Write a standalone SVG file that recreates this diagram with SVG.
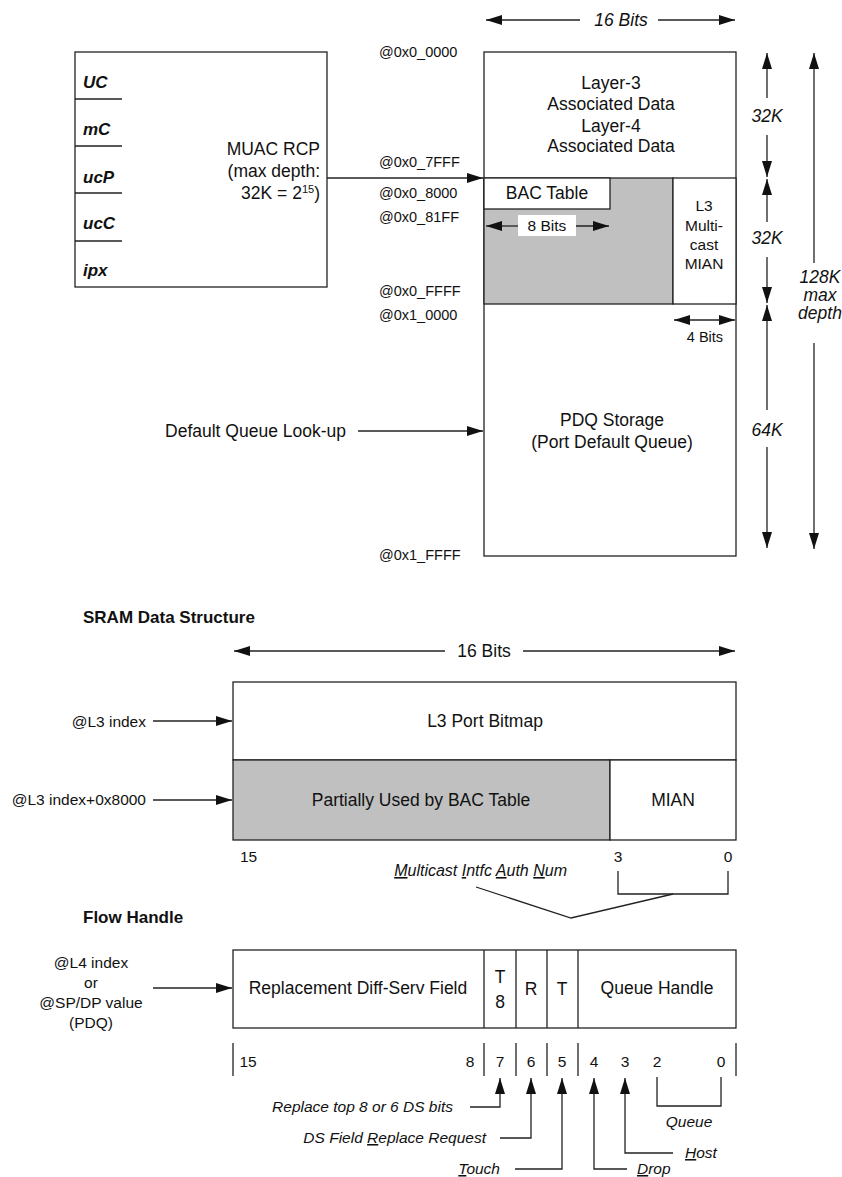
<svg xmlns="http://www.w3.org/2000/svg" width="842" height="1177" viewBox="0 0 842 1177">
<style>
text{font-family:"Liberation Sans",Arial,sans-serif;fill:#111;}
.m{font-size:17.5px;}
.a{font-size:14.5px;}
.s{font-size:15.5px;}
.i{font-style:italic;}
.b{font-weight:bold;font-size:17px;}
.bi{font-weight:bold;font-style:italic;font-size:17px;}
.c{text-anchor:middle;}
.e{text-anchor:end;}
.u{text-decoration:underline;}
.box{fill:#fff;stroke:#222;stroke-width:1.3;}
.gray{fill:#c0c0c0;stroke:#222;stroke-width:1.3;}
.ln{fill:none;stroke:#222;stroke-width:1.3;}
.ar{fill:none;stroke:#222;stroke-width:1.3;marker-end:url(#ah);}
.ar2{fill:none;stroke:#222;stroke-width:1.3;marker-end:url(#ah);marker-start:url(#ah);}
</style>
<defs>
<marker id="ah" markerUnits="userSpaceOnUse" markerWidth="16" markerHeight="10" refX="16" refY="5" orient="auto-start-reverse">
<path d="M0,0 L16,5 L0,10 z" fill="#111"/>
</marker>
</defs>
<rect width="842" height="1177" fill="#fff"/>

<!-- Left MUAC box -->
<g id="muac">
<rect class="box" x="75" y="52" width="252" height="235"/>
<path class="ln" d="M75,99 H122 M75,146 H122 M75,193 H122 M75,241 H122"/>
<text class="bi" x="83" y="88">UC</text>
<text class="bi" x="83" y="135">mC</text>
<text class="bi" x="83" y="183">ucP</text>
<text class="bi" x="83" y="229">ucC</text>
<text class="bi" x="83" y="276">ipx</text>
<text class="m e" x="320" y="155">MUAC RCP</text>
<text class="m e" x="320" y="177">(max depth:</text>
<text class="m e" x="320" y="199">32K = 2<tspan font-size="11" dy="-6">15</tspan><tspan dy="6">)</tspan></text>
</g>

<!-- Address labels -->
<g id="addresses">
<text class="a" x="379" y="57">@0x0_0000</text>
<text class="a" x="379" y="167">@0x0_7FFF</text>
<text class="a" x="379" y="198">@0x0_8000</text>
<text class="a" x="379" y="222">@0x0_81FF</text>
<text class="a" x="379" y="296">@0x0_FFFF</text>
<text class="a" x="379" y="320">@0x1_0000</text>
<text class="a" x="379" y="560">@0x1_FFFF</text>
</g>

<!-- Memory map -->
<g id="memmap">
<rect class="box" x="484" y="52" width="252" height="504"/>
<rect class="gray" x="484" y="178" width="189" height="126"/>
<rect class="box" x="673" y="178" width="63" height="126"/>
<rect class="box" x="484" y="178" width="126" height="31"/>
<text class="m c" x="611" y="89">Layer-3</text>
<text class="m c" x="611" y="110">Associated Data</text>
<text class="m c" x="611" y="132">Layer-4</text>
<text class="m c" x="611" y="152">Associated Data</text>
<text class="m c" x="547" y="199">BAC Table</text>
<rect x="518" y="215" width="58" height="21" fill="#fff"/>
<text class="s c" x="547" y="231">8 Bits</text>
<text class="s c" x="704" y="211">L3</text>
<text class="s c" x="704" y="231">Multi-</text>
<text class="s c" x="704" y="250">cast</text>
<text class="s c" x="704" y="269">MIAN</text>
<text class="a c" x="705" y="342">4 Bits</text>
<text class="m c" x="612" y="426">PDQ Storage</text>
<text class="m c" x="612" y="448">(Port Default Queue)</text>
</g>

<g id="dims">
<text class="m i c" x="621" y="26">16 Bits</text>
<text class="m i c" x="767" y="122">32K</text>
<text class="m i c" x="767" y="244">32K</text>
<text class="m i c" x="767" y="436">64K</text>
<text class="m i c" x="820" y="283">128K</text>
<text class="m i c" x="820" y="301">max</text>
<text class="m i c" x="820" y="319">depth</text>
<text class="m e" x="346" y="437">Default Queue Look-up</text>
</g>

<!-- SRAM data structure -->
<g id="sram">
<text class="b" x="83" y="623">SRAM Data Structure</text>
<text class="m c" x="484" y="657">16 Bits</text>
<rect class="box" x="233" y="682" width="503" height="78"/>
<rect class="gray" x="233" y="760" width="377" height="80"/>
<rect class="box" x="610" y="760" width="126" height="80"/>
<text class="m c" x="485" y="727">L3 Port Bitmap</text>
<text class="m c" x="421" y="806">Partially Used by BAC Table</text>
<text class="m c" x="673" y="806">MIAN</text>
<text class="s e" x="146" y="727">@L3 index</text>
<text class="s e" x="146" y="805">@L3 index+0x8000</text>
<text class="s" x="240" y="862">15</text>
<text class="s c" x="618" y="862">3</text>
<text class="s c" x="728" y="862">0</text>
<text class="i e" font-size="16" x="567" y="876"><tspan class="u">M</tspan>ulticast <tspan class="u">I</tspan>ntfc <tspan class="u">A</tspan>uth <tspan class="u">N</tspan>um</text>
</g>

<!-- Flow handle -->
<g id="flow">
<text class="b" x="83" y="923">Flow Handle</text>
<text class="s c" x="91" y="968">@L4 index</text>
<text class="s c" x="91" y="988">or</text>
<text class="s c" x="91" y="1008">@SP/DP value</text>
<text class="s c" x="91" y="1028">(PDQ)</text>
<rect class="box" x="233" y="950" width="503" height="78"/>
<path class="ln" d="M484,950 V1028 M516,950 V1028 M547,950 V1028 M578,950 V1028"/>
<text class="m c" x="358" y="994">Replacement Diff-Serv Field</text>
<text class="m c" x="500" y="983">T</text>
<text class="m c" x="500" y="1008">8</text>
<text class="m c" x="531" y="995">R</text>
<text class="m c" x="562" y="995">T</text>
<text class="m c" x="657" y="994">Queue Handle</text>
<text class="s c" x="248" y="1067">15</text>
<text class="s c" x="470" y="1067">8</text>
<text class="s c" x="500" y="1067">7</text>
<text class="s c" x="531" y="1067">6</text>
<text class="s c" x="562" y="1067">5</text>
<text class="s c" x="594" y="1067">4</text>
<text class="s c" x="625" y="1067">3</text>
<text class="s c" x="657" y="1067">2</text>
<text class="s c" x="721" y="1067">0</text>
<text class="s i e" x="453" y="1112">Replace top 8 or 6 DS bits</text>
<text class="s i e" x="486" y="1143">DS Field <tspan class="u">R</tspan>eplace Request</text>
<text class="s i e" x="500" y="1174"><tspan class="u">T</tspan>ouch</text>
<text class="s i" x="637" y="1174"><tspan class="u">D</tspan>rop</text>
<text class="s i" x="685" y="1158"><tspan class="u">H</tspan>ost</text>
<text class="s i c" x="689" y="1127">Queue</text>
</g>

<!-- Connectors -->
<g id="connectors">
<path class="ar" d="M580,20 L486,20"/>
<path class="ar" d="M658,20 L735,20"/>
<path class="ar" d="M327,178 L483,178"/>
<path class="ar" d="M518,226 L486,226"/>
<path class="ar" d="M576,226 L609,226"/>
<path class="ar2" d="M674,320 L735,320"/>
<path class="ar" d="M767,98 L767,53"/>
<path class="ar" d="M767,135 L767,177"/>
<path class="ar" d="M767,222 L767,179"/>
<path class="ar" d="M767,257 L767,303"/>
<path class="ar" d="M767,410 L767,305"/>
<path class="ar" d="M767,447 L767,548"/>
<path class="ar" d="M814,263 L814,53"/>
<path class="ar" d="M814,343 L814,549"/>
<path class="ar" d="M358,431 L483,431"/>
<path class="ar" d="M445,651 L234,651"/>
<path class="ar" d="M523,651 L735,651"/>
<path class="ar" d="M153,721 L232,721"/>
<path class="ar" d="M153,800 L232,800"/>
<path class="ln" d="M618,871 V894 H728 V871"/>
<path class="ln" d="M476,887 L571,918 L673,894"/>
<path class="ar" d="M153,988 L232,988"/>
<path class="ln" d="M233,1043 V1076 M484,1043 V1076 M516,1043 V1076 M547,1043 V1076 M578,1043 V1076 M736,1043 V1076"/>
<path class="ar" d="M470,1107 H500 V1078"/>
<path class="ar" d="M500,1138 H531 V1078"/>
<path class="ar" d="M515,1169 H562 V1078"/>
<path class="ar" d="M627,1169 H594 V1078"/>
<path class="ar" d="M673,1153 H625 V1078"/>
<path class="ln" d="M657,1077 V1106 H721 V1077"/>
</g>
</svg>
